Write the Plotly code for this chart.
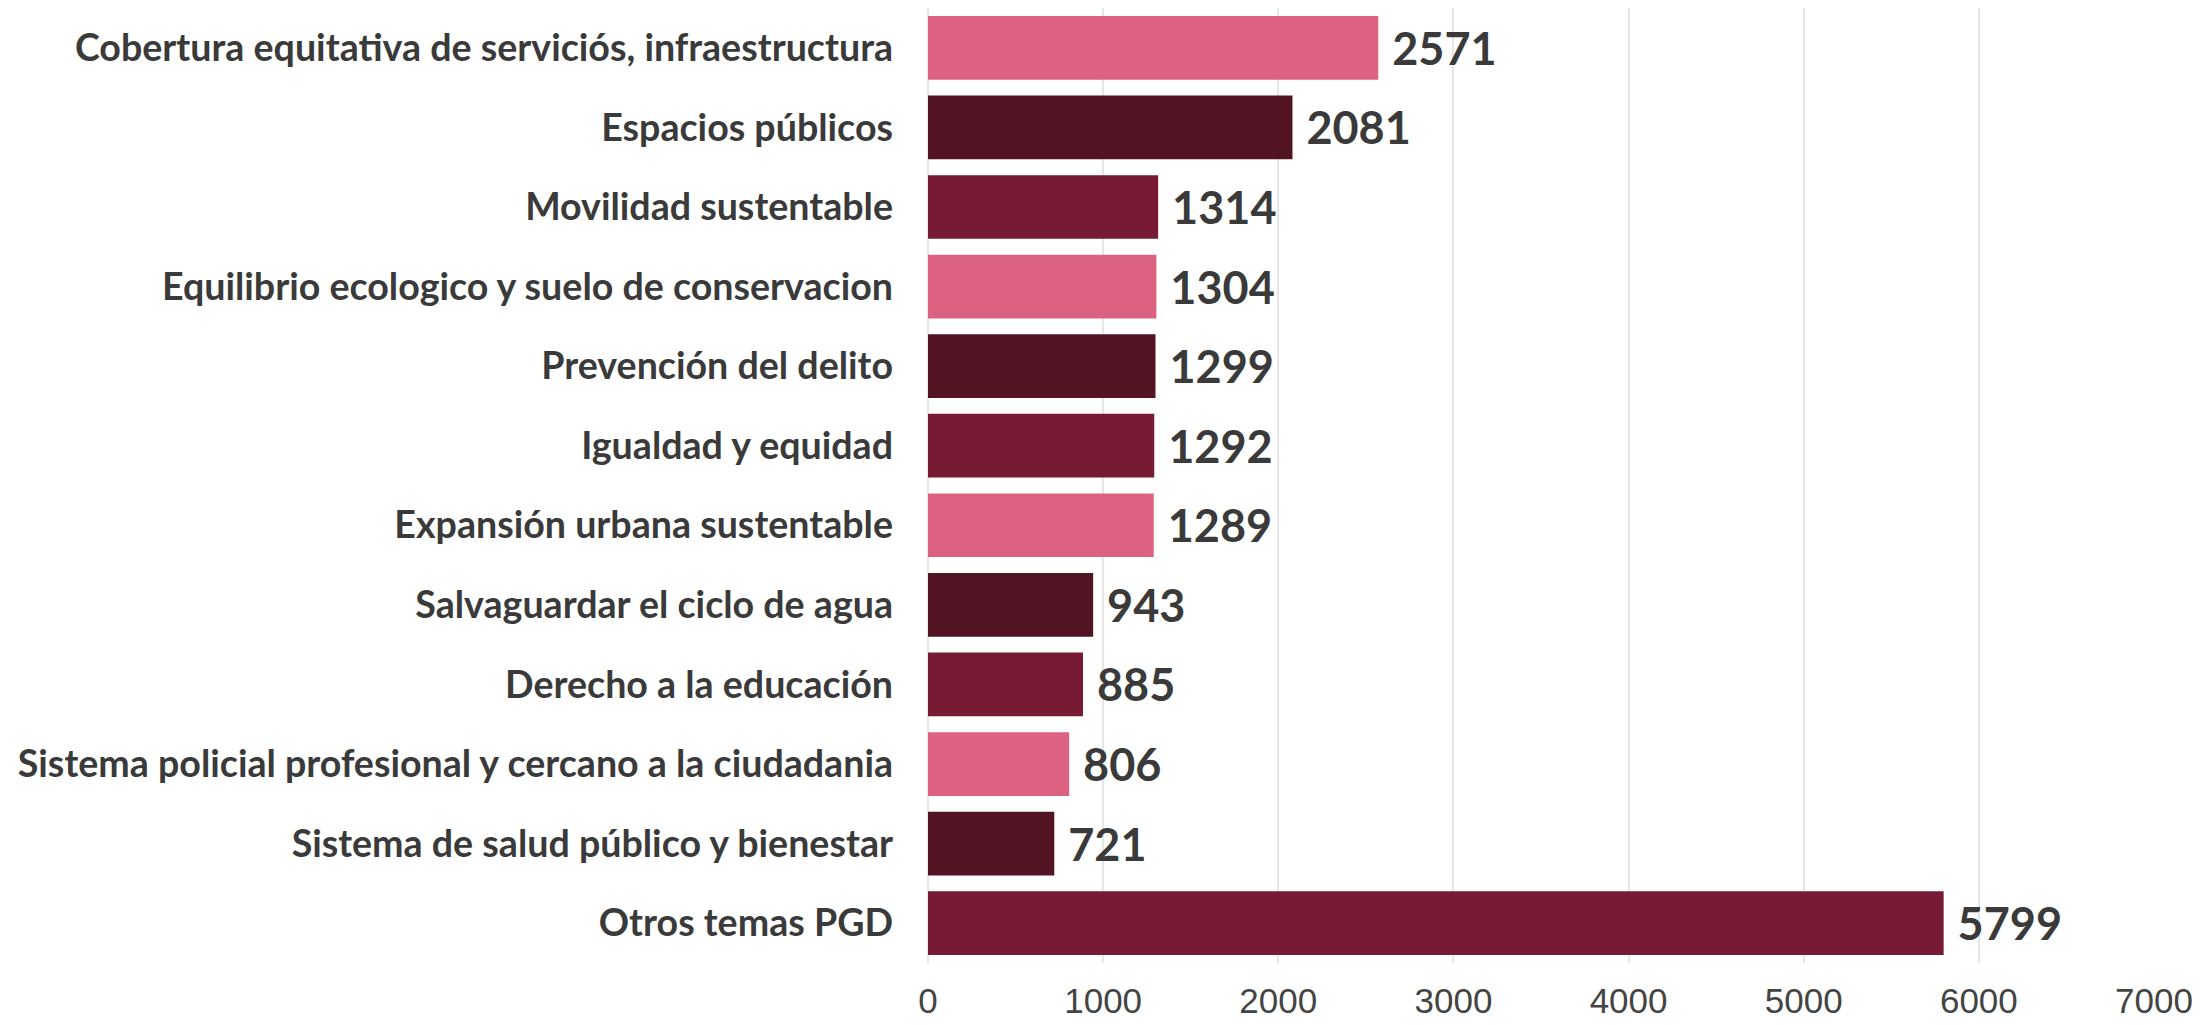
import plotly.graph_objects as go

categories = [
    "Cobertura equitativa de serviciós, infraestructura",
    "Espacios públicos",
    "Movilidad sustentable",
    "Equilibrio ecologico y suelo de conservacion",
    "Prevención del delito",
    "Igualdad y equidad",
    "Expansión urbana sustentable",
    "Salvaguardar el ciclo de agua",
    "Derecho a la educación",
    "Sistema policial profesional y cercano a la ciudadania",
    "Sistema de salud público y bienestar",
    "Otros temas PGD",
]
values = [2571, 2081, 1314, 1304, 1299, 1292, 1289, 943, 885, 806, 721, 5799]
palette = ["#DD6282", "#521423", "#771A33"]
bar_colors = [palette[i % 3] for i in range(len(values))]
x_ticks = [0, 1000, 2000, 3000, 4000, 5000, 6000, 7000]

fig = go.Figure(go.Bar(
    x=values,
    y=categories,
    orientation="h",
    marker=dict(color=bar_colors, line=dict(width=0)),
    text=[f" {v}" for v in values],
    textposition="outside",
    textfont=dict(family="Lato", size=45, color="#3a3a3a", weight="bold"),
    cliponaxis=False,
))

fig.update_layout(
    width=2195, height=1017,
    margin=dict(l=920, r=49, t=0, b=62),
    paper_bgcolor="white", plot_bgcolor="white",
    bargap=0.2,
    showlegend=False,
    xaxis=dict(
        range=[0, 7000], tickvals=x_ticks, automargin=False,
        showgrid=True, gridcolor="#e6e6e6", gridwidth=2,
        zeroline=True, zerolinecolor="#e6e6e6", zerolinewidth=2,
        showline=False,
        tickfont=dict(family="Liberation Sans", size=35, color="#444444"),
        ticklabelstandoff=14,
    ),
    yaxis=dict(
        categoryorder="array", categoryarray=categories,
        autorange="reversed", automargin=False,
        showgrid=False, showline=False,
        tickfont=dict(family="Lato", size=37.6, color="#3a3a3a", weight="bold"),
        ticklabelstandoff=34,
    ),
)

fig.write_html("out.html")
